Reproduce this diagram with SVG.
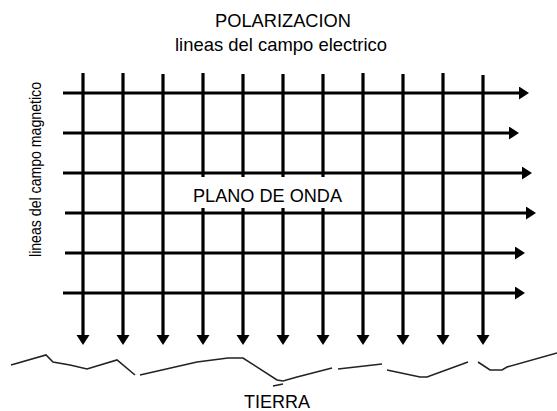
<svg xmlns="http://www.w3.org/2000/svg" width="557" height="411" viewBox="0 0 557 411">
<style>
  .t { font-family: "Liberation Sans", Arial, sans-serif; font-size: 19px; fill: #000; }
  .ln { stroke: #000; stroke-width: 3.2; fill: none; }
  .gr { stroke: #222; stroke-width: 1.6; fill: none; stroke-linejoin: miter; }
</style>
<defs>
  <marker id="ah" markerUnits="userSpaceOnUse" markerWidth="12" markerHeight="14" refX="3" refY="6.5" orient="auto">
    <path d="M0,0 L10,6.5 L0,13 z" fill="#000"/>
  </marker>
</defs>
<rect x="0" y="0" width="557" height="411" fill="#fff"/>

<g id="title">
  <text class="t" x="283" y="27" text-anchor="middle" textLength="136" lengthAdjust="spacingAndGlyphs">POLARIZACION</text>
</g>
<g id="electric-label">
  <text class="t" x="281" y="51" text-anchor="middle" textLength="212" lengthAdjust="spacingAndGlyphs">lineas del campo electrico</text>
</g>
<g id="magnetic-label">
  <text class="t" style="font-size:17px" transform="translate(41,169.5) rotate(-90)" text-anchor="middle" textLength="175" lengthAdjust="spacingAndGlyphs">lineas del campo magnetico</text>
</g>

<g id="connectors">
  <g id="electric-lines">
    <line class="ln" x1="83" y1="73" x2="83" y2="338" marker-end="url(#ah)"/>
    <line class="ln" x1="123" y1="73" x2="123" y2="338" marker-end="url(#ah)"/>
    <line class="ln" x1="163" y1="74" x2="163" y2="338" marker-end="url(#ah)"/>
    <line class="ln" x1="203" y1="73" x2="203" y2="338" marker-end="url(#ah)"/>
    <line class="ln" x1="243" y1="74" x2="243" y2="338" marker-end="url(#ah)"/>
    <line class="ln" x1="283" y1="74" x2="283" y2="338" marker-end="url(#ah)"/>
    <line class="ln" x1="323" y1="74" x2="323" y2="338" marker-end="url(#ah)"/>
    <line class="ln" x1="363" y1="73" x2="363" y2="338" marker-end="url(#ah)"/>
    <line class="ln" x1="403" y1="74" x2="403" y2="338" marker-end="url(#ah)"/>
    <line class="ln" x1="443" y1="73" x2="443" y2="338" marker-end="url(#ah)"/>
    <line class="ln" x1="483" y1="75" x2="483" y2="338" marker-end="url(#ah)"/>
  </g>
  <g id="magnetic-lines">
    <line class="ln" x1="63" y1="93" x2="522" y2="93" marker-end="url(#ah)"/>
    <line class="ln" x1="63" y1="133" x2="512" y2="133" marker-end="url(#ah)"/>
    <line class="ln" x1="63" y1="173" x2="525" y2="173" marker-end="url(#ah)"/>
    <line class="ln" x1="65" y1="213" x2="529" y2="213" marker-end="url(#ah)"/>
    <line class="ln" x1="65" y1="253" x2="518" y2="253" marker-end="url(#ah)"/>
    <line class="ln" x1="63" y1="293" x2="518" y2="293" marker-end="url(#ah)"/>
  </g>
</g>

<g id="wave-plane">
  <rect x="185" y="177" width="165" height="31" fill="#fff"/>
  <text class="t" x="267.5" y="201.5" text-anchor="middle" textLength="149" lengthAdjust="spacingAndGlyphs">PLANO DE ONDA</text>
</g>

<g id="ground">
  <polyline class="gr" points="11,365 46,355 53,362 70,365 87,369 117,360 135,375"/>
  <polyline class="gr" points="140,375 197,362 228,358 243,358 277,380 283,381 297,377 332,368"/>
  <line class="gr" x1="273" y1="386" x2="283" y2="384"/>
  <polyline class="gr" points="338,369 382,364"/>
  <polyline class="gr" points="387,370 420,377 427,377 468,362"/>
  <polyline class="gr" points="478,362 490,370 502,370 507,367 557,353"/>
  <text class="t" x="277" y="408" text-anchor="middle" textLength="66" lengthAdjust="spacingAndGlyphs">TIERRA</text>
</g>
</svg>
